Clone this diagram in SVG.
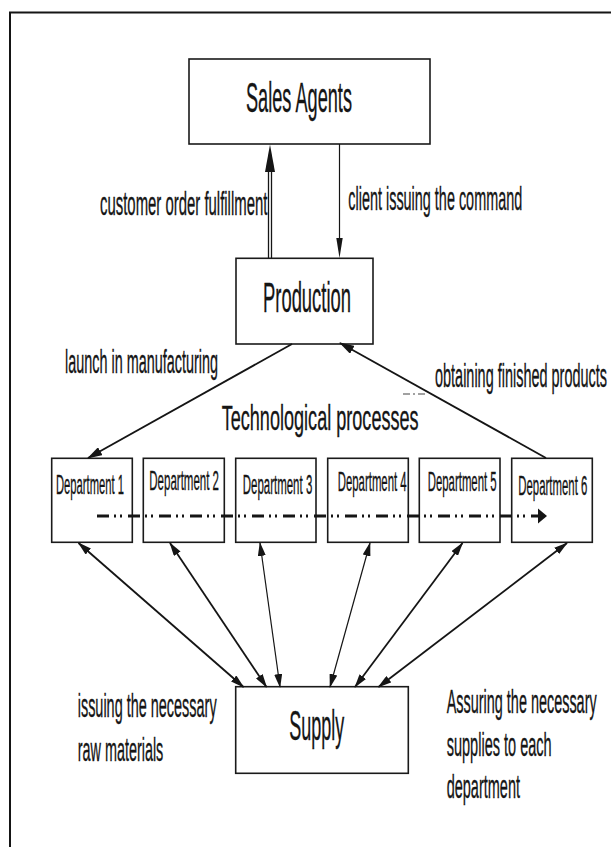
<svg xmlns="http://www.w3.org/2000/svg" width="611" height="847" viewBox="0 0 611 847">
<style>
  .box { fill: #fff; stroke: #1a1a1a; stroke-width: 1.6; }
  .t { font-family: "Liberation Sans", Arial, sans-serif; fill: #151515; stroke: #151515; stroke-width: 0.35; }
  .big { font-size: 43px; }
  .mid { font-size: 36px; }
  .lab { font-size: 33px; }
  .lab2 { font-size: 34px; }
  .dep { font-size: 27px; }
  .ln { fill: none; stroke: #151515; stroke-width: 1.8; }
  .thin { stroke-width: 1.2; }
</style>
<defs>
  <marker id="ah" markerUnits="userSpaceOnUse" markerWidth="15" markerHeight="9" refX="14" refY="4.5" orient="auto-start-reverse">
    <path d="M0,0 L15,4.5 L0,9 Z" fill="#151515"/>
  </marker>
  <marker id="ahs" markerUnits="userSpaceOnUse" markerWidth="14" markerHeight="8" refX="13" refY="4" orient="auto-start-reverse">
    <path d="M0,0 L14,4 L0,8 Z" fill="#151515"/>
  </marker>
</defs>
<rect width="611" height="847" fill="#fff"/>
<path d="M10,847 V12.5 H611" fill="none" stroke="#151515" stroke-width="2"/>

<g id="sales-agents">
  <rect class="box" x="189" y="59" width="241" height="85"/>
  <text class="t big" transform="translate(246,111.7) scale(0.4223,1)">Sales Agents</text>
</g>
<g id="production">
  <rect class="box" x="236" y="258.3" width="137" height="85.7"/>
  <text class="t big" transform="translate(263,311.5) scale(0.4281,1)">Production</text>
</g>
<g id="department-1">
  <rect class="box" x="51.7" y="458.3" width="80.6" height="84"/>
  <text class="t dep" transform="translate(56,494) scale(0.416,1)">Department 1</text>
</g>
<g id="department-2">
  <rect class="box" x="143.3" y="458.3" width="81" height="84"/>
  <text class="t dep" transform="translate(149.3,490) scale(0.4261,1)">Department 2</text>
</g>
<g id="department-3">
  <rect class="box" x="235.7" y="458.3" width="80.3" height="84"/>
  <text class="t dep" transform="translate(242.7,494) scale(0.4256,1)">Department 3</text>
</g>
<g id="department-4">
  <rect class="box" x="327.7" y="458.3" width="80.6" height="84"/>
  <text class="t dep" transform="translate(337.7,491) scale(0.4218,1)">Department 4</text>
</g>
<g id="department-5">
  <rect class="box" x="419.3" y="458.3" width="80.7" height="84"/>
  <text class="t dep" transform="translate(427.7,491) scale(0.4218,1)">Department 5</text>
</g>
<g id="department-6">
  <rect class="box" x="511.7" y="458.3" width="80.6" height="84"/>
  <text class="t dep" transform="translate(518.3,495) scale(0.4218,1)">Department 6</text>
</g>
<g id="supply">
  <rect class="box" x="235.7" y="686.7" width="172.6" height="86.6"/>
  <text class="t big" transform="translate(289.3,740) scale(0.4183,1)">Supply</text>
</g>

<g id="connectors">
  <!-- Production to Sales Agents (double line, big head) -->
  <line x1="268.5" y1="170" x2="268.5" y2="258" stroke="#151515" stroke-width="1.3"/>
  <line x1="271.5" y1="170" x2="271.5" y2="258" stroke="#151515" stroke-width="1.3"/>
  <path d="M270,144.5 L265,172 L275,172 Z" fill="#151515"/>
  <!-- Sales Agents to Production -->
  <line x1="339.5" y1="144" x2="339.5" y2="240" stroke="#151515" stroke-width="1.2"/>
  <path d="M339.5,258 L336.3,238 L342.7,238 Z" fill="#151515"/>
  <!-- Production to Department 1 -->
  <line class="ln" x1="292" y1="344" x2="88" y2="458" marker-end="url(#ah)"/>
  <!-- Department 6 to Production -->
  <line class="ln" x1="546" y1="458" x2="340" y2="343" marker-end="url(#ah)"/>
  <!-- small dashed mark -->
  <line x1="403" y1="394" x2="428" y2="394" stroke="#444" stroke-width="1.2" stroke-dasharray="7,3,2,3"/>
  <!-- technological process flow -->
  <line x1="97" y1="516" x2="540" y2="516" stroke="#151515" stroke-width="3" stroke-dasharray="12,5,2,4,2,6"/>
  <path d="M538,508.5 L547,516 L538,523.5 Z" fill="#151515"/>
  <!-- Supply to departments -->
  <line class="ln" x1="78.5" y1="543" x2="243.5" y2="687" marker-start="url(#ahs)" marker-end="url(#ahs)"/>
  <line class="ln" x1="170" y1="543" x2="266.5" y2="687" marker-start="url(#ahs)" marker-end="url(#ahs)"/>
  <line class="ln thin" x1="260" y1="543" x2="280" y2="687" marker-start="url(#ahs)" marker-end="url(#ahs)"/>
  <line class="ln thin" x1="370" y1="543" x2="330" y2="687" marker-start="url(#ahs)" marker-end="url(#ahs)"/>
  <line class="ln" x1="462.5" y1="543" x2="355" y2="687" marker-start="url(#ahs)" marker-end="url(#ahs)"/>
  <line class="ln" x1="567" y1="543" x2="378.5" y2="687" marker-start="url(#ahs)" marker-end="url(#ahs)"/>
</g>

<g id="labels">
  <text class="t lab" transform="translate(100,215) scale(0.4521,1)">customer order fulfillment</text>
  <text class="t lab" transform="translate(348.3,209.5) scale(0.4372,1)">client issuing the command</text>
  <text class="t lab" transform="translate(65,373) scale(0.4367,1)">launch in manufacturing</text>
  <text class="t lab" transform="translate(435,386.5) scale(0.4382,1)">obtaining finished products</text>
  <text class="t mid" transform="translate(221.7,430) scale(0.5023,1)">Technological processes</text>
  <text class="t lab2" transform="translate(77.7,717) scale(0.4252,1)">issuing the necessary</text>
  <text class="t lab2" transform="translate(77.7,760.7) scale(0.4236,1)">raw materials</text>
  <text class="t lab2" transform="translate(446.7,712.7) scale(0.4245,1)">Assuring the necessary</text>
  <text class="t lab2" transform="translate(446.7,755.5) scale(0.4275,1)">supplies to each</text>
  <text class="t lab2" transform="translate(446.7,798.3) scale(0.4262,1)">department</text>
</g>
</svg>
